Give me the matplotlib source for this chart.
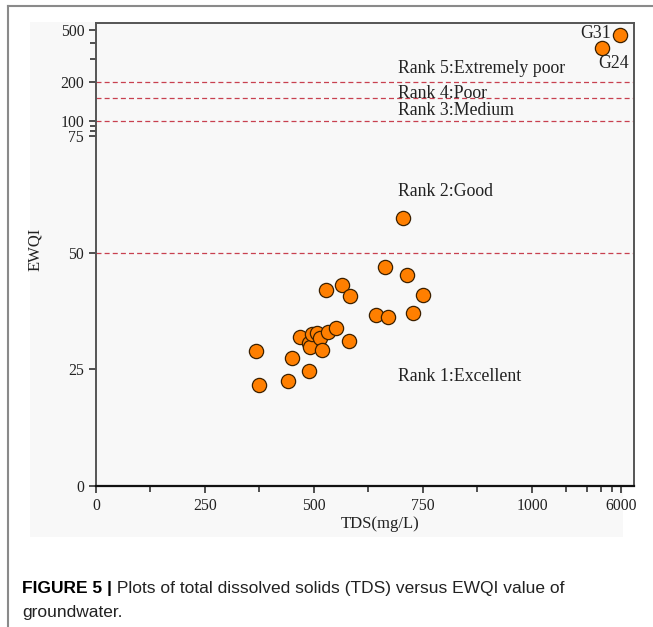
import numpy as np
import matplotlib
matplotlib.use("Agg")
import matplotlib.pyplot as plt
from matplotlib.lines import Line2D
from matplotlib.patches import Rectangle

# TDS (mg/L) and EWQI of each groundwater sample
tds = [366, 373, 440, 449, 467, 488, 489, 492, 495, 507, 513, 519, 533, 551, 580,
       527, 565, 583, 643, 669, 728, 749, 663, 713, 705, 4070, 5880]
ewqi = [29.0, 21.6, 22.6, 27.4, 31.9, 24.6, 30.6, 29.8, 32.6, 32.9, 31.7, 29.2, 33.1, 33.8, 31.1,
        42.1, 43.1, 40.8, 36.7, 36.3, 37.2, 41.0, 46.9, 45.3, 57.4, 362, 458]

# named samples
tagged = ["G24", "G31"]
tagged_tds = [4070, 5880]
tagged_ewqi = [362, 458]

# EWQI class limits and class names
rank_limits = [50, 100, 150, 200]
rank_names = ["Rank 1:Excellent", "Rank 2:Good", "Rank 3:Medium",
              "Rank 4:Poor", "Rank 5:Extremely poor"]

x_major = [0, 250, 500, 750, 1000, 6000]
x_minor = [125, 375, 625, 875, 2000, 3000, 4000, 5000]
y_major = [0, 25, 50, 75, 100, 200, 500]
y_minor = [84, 92, 300, 400]

# broken axes: linear below the break, log above it
Y_GAP = 3.4
Y_DEC = 27.8
X_DEC = 262.4


def y_fwd(v):
    v = np.asarray(v, float)
    mid = 75 + (v - 75) / 25 * Y_GAP
    hi = 75 + Y_GAP + Y_DEC * np.log10(np.maximum(v, 100) / 100)
    return np.where(v <= 75, v, np.where(v < 100, mid, hi))


def y_inv(u):
    u = np.asarray(u, float)
    mid = 75 + (u - 75) / Y_GAP * 25
    hi = 100 * 10 ** ((np.clip(u, 75 + Y_GAP, 200) - 75 - Y_GAP) / Y_DEC)
    return np.where(u <= 75, u, np.where(u < 75 + Y_GAP, mid, hi))


def x_fwd(v):
    v = np.asarray(v, float)
    hi = 1000 + X_DEC * np.log10(np.maximum(v, 1000) / 1000)
    return np.where(v <= 1000, v, hi)


def x_inv(u):
    u = np.asarray(u, float)
    hi = 1000 * 10 ** ((np.clip(u, 1000, 3000) - 1000) / X_DEC)
    return np.where(u <= 1000, u, hi)


plt.rcParams["font.family"] = "Liberation Serif"

fig = plt.figure(figsize=(6.53, 6.27), dpi=100)
fig.patch.set_facecolor("white")

# light panel behind the chart and the page border
fig.add_artist(Rectangle((30 / 653, 1 - 537 / 627), 593 / 653, 515 / 627,
                         transform=fig.transFigure, facecolor="#f8f8f8",
                         edgecolor="none", zorder=0))
fig.add_artist(Line2D([8 / 653, 1], [1 - 6 / 627] * 2, transform=fig.transFigure,
                      color="#8a8a8a", lw=1.5))
fig.add_artist(Line2D([8 / 653] * 2, [0, 1 - 6 / 627], transform=fig.transFigure,
                      color="#8a8a8a", lw=1.5))

ax = fig.add_axes([96 / 653, 141 / 627, 538 / 653, 463 / 627])
ax.set_facecolor("#f8f8f8")
ax.set_xscale("function", functions=(x_fwd, x_inv))
ax.set_yscale("function", functions=(y_fwd, y_inv))
ax.set_xlim(0, 7800)
ax.set_ylim(0, 567)

for lim in rank_limits:
    ax.axhline(lim, color="#c8404f", lw=0.9, ls=(0, (4, 2.5)), zorder=1)

ax.scatter(tds, ewqi, s=105, c="#ff7f00", edgecolors="#3b2000",
           linewidths=0.9, zorder=3)

ax.annotate(tagged[0], (tagged_tds[0], tagged_ewqi[0]), xytext=(12, -15),
            textcoords="offset pixels", ha="center", va="center", fontsize=12.8,
            color="#222222")
ax.annotate(tagged[1], (tagged_tds[1], tagged_ewqi[1]), xytext=(-9, 2),
            textcoords="offset pixels", ha="right", va="center", fontsize=12.8,
            color="#222222")

rank_y = [23.6, 63.2, 119, 163, 251]
for name, ry in zip(rank_names, rank_y):
    ax.text(693, ry, name, ha="left", va="center", fontsize=12.8, color="#222222")

ax.set_xticks(x_major)
ax.set_xticklabels([str(v) for v in x_major])
ax.set_xticks(x_minor, minor=True)
ax.set_yticks(y_major)
ax.set_yticklabels([str(v) for v in y_major])
ax.set_yticks(y_minor, minor=True)
ax.tick_params(which="both", direction="out", color="#333333", width=1.2,
               labelsize=11.3, labelcolor="#222222")
ax.tick_params(which="major", length=5)
ax.tick_params(which="minor", length=4)

for side in ["left", "top", "right"]:
    ax.spines[side].set_color("#555555")
    ax.spines[side].set_linewidth(1.4)
ax.spines["bottom"].set_color("#111111")
ax.spines["bottom"].set_linewidth(1.6)

ax.set_xlabel("TDS(mg/L)", fontsize=12, color="#222222")
ax.xaxis.set_label_coords(0.528, -0.065)
ax.set_ylabel("EWQI", fontsize=12, color="#222222")
ax.yaxis.set_label_coords(-0.098, 0.51)

# figure caption
cap = fig.text(22 / 653, 1 - 588 / 627, "FIGURE 5 |", family="Liberation Sans",
               weight="bold", fontsize=12.5, va="center", ha="left")
ax.annotate(" Plots of total dissolved solids (TDS) versus EWQI value of",
            xy=(1, 0.5), xycoords=cap, va="center", ha="left",
            family="Liberation Sans", fontsize=12.5, color="#222222")
fig.text(22 / 653, 1 - 612 / 627, "groundwater.", family="Liberation Sans",
         fontsize=12.5, va="center", ha="left", color="#222222")

fig.savefig("out.png", dpi=100)
